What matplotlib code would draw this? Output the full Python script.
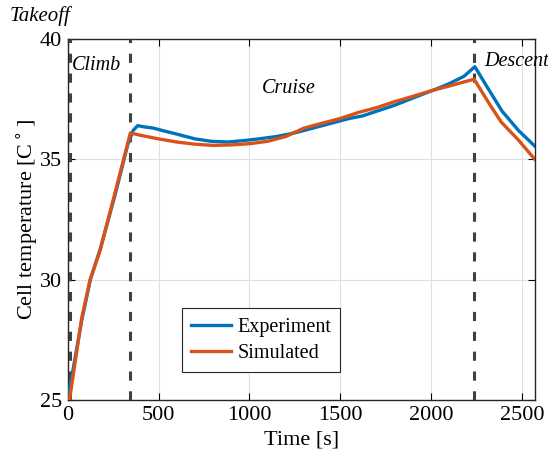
import matplotlib
matplotlib.use('Agg')
import matplotlib.pyplot as plt

# dados
t_exp = [0, 77, 125, 180, 260, 330, 360, 385, 420, 470, 520, 600, 700, 790, 880, 970,
         1050, 1150, 1250, 1350, 1450, 1550, 1620, 1700, 1800, 1900, 2020, 2100,
         2180, 2240, 2300, 2390, 2480, 2570]
temp_exp = [25, 28.3, 30.0, 31.3, 33.5, 35.6, 36.2, 36.4, 36.35, 36.3, 36.2, 36.05,
            35.85, 35.75, 35.72, 35.78, 35.85, 35.95, 36.1, 36.3, 36.5, 36.7, 36.8,
            37.0, 37.25, 37.55, 37.9, 38.15, 38.45, 38.85, 38.1, 37.0, 36.2, 35.55]

t_sim = [10, 77, 123, 178, 260, 345, 400, 500, 600, 700, 800, 900, 1000, 1100, 1200,
         1300, 1400, 1500, 1600, 1700, 1800, 1900, 2000, 2100, 2236, 2320, 2385,
         2480, 2570]
temp_sim = [25, 28.4, 30.0, 31.2, 33.6, 36.1, 36.0, 35.85, 35.72, 35.63, 35.58, 35.6,
            35.65, 35.75, 35.95, 36.3, 36.5, 36.7, 36.95, 37.15, 37.4, 37.62, 37.85,
            38.05, 38.33, 37.3, 36.55, 35.8, 35.0]

fases = [13, 344, 2236]  # takeoff, fim da subida, descida
yticks = [25, 30, 35, 40]
xticks = [0, 500, 1000, 1500, 2000, 2500]

plt.rcParams['font.family'] = 'Liberation Serif'

fig = plt.figure(figsize=(5.48, 4.59), dpi=100)
ax = fig.add_axes([0.1235, 0.1285, 0.8525, 0.7865])

for f in fases:
    ax.axvline(f, color='#404040', linestyle=(0, (3, 3.5)), linewidth=2.2, zorder=3)

ax.plot(t_exp, temp_exp, color='#0072BD', linewidth=2.4, label='Experiment', zorder=4)
ax.plot(t_sim, temp_sim, color='#D95319', linewidth=2.4, label='Simulated', zorder=5)

ax.set_xlim(0, 2570)
ax.set_ylim(25, 40)
ax.set_xticks(xticks)
ax.set_yticks(yticks)
ax.tick_params(direction='in', top=True, right=True, labelsize=16, length=5, pad=4)
ax.grid(True, color='#e0e0e0', linewidth=0.8)
ax.set_axisbelow(True)
for s in ax.spines.values():
    s.set_linewidth(1.0)
    s.set_color('#262626')

ax.set_xlabel('Time [s]', fontsize=16, labelpad=4)
ax.set_ylabel(r'Cell temperature [C$^\circ$]', fontsize=16, labelpad=0)

fig.text(0.018, 0.965, 'Takeoff', fontsize=15, style='italic', ha='left', va='center')
ax.text(25, 38.9, 'Climb', fontsize=14.5, style='italic', ha='left', va='center')
ax.text(1069, 37.95, 'Cruise', fontsize=14.5, style='italic', ha='left', va='center')
ax.text(2290, 39.05, 'Descent', fontsize=14.5, style='italic', ha='left', va='center',
        clip_on=False)

leg = ax.legend(loc='lower left', bbox_to_anchor=(0.245, 0.078), fontsize=14.5,
                handlelength=2.0, handletextpad=0.3, borderpad=0.45,
                labelspacing=0.35, fancybox=False, framealpha=1,
                borderaxespad=0)
leg.get_frame().set_edgecolor('#262626')
leg.get_frame().set_linewidth(0.8)

fig.savefig('out.png', dpi=100)
